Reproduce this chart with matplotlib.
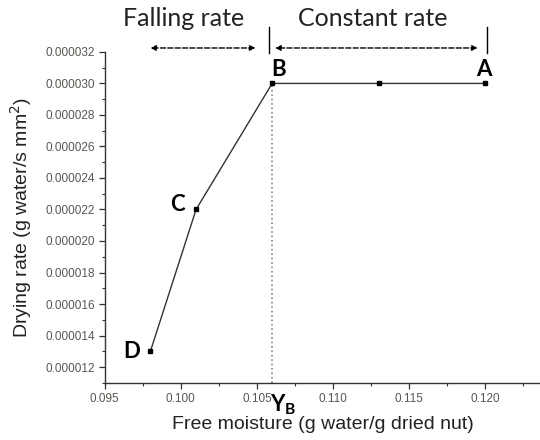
import matplotlib
matplotlib.use("Agg")
import matplotlib.pyplot as plt
from matplotlib.ticker import MultipleLocator, FormatStrFormatter

# data
moisture = [0.098, 0.101, 0.106, 0.113, 0.120]
rate = [0.000013, 0.000022, 0.000030, 0.000030, 0.000030]
point_names = ["D", "C", "B", "", "A"]
x_b = 0.106

fig = plt.figure(figsize=(5.4, 4.4), dpi=100)
ax = fig.add_axes([0.194, 0.13, 0.806, 0.752])

ax.plot(moisture, rate, color="#333333", lw=1.0, marker="s", ms=3.5,
        mfc="black", mec="black", zorder=3)
ax.vlines(x_b, 0.000011, rate[2], colors="#888888", linestyles=":", lw=1.2)

ax.set_xlim(0.095, 0.1236)
ax.set_ylim(0.000011, 0.000032)
ax.xaxis.set_major_locator(MultipleLocator(0.005))
ax.xaxis.set_minor_locator(MultipleLocator(0.0025))
ax.yaxis.set_major_locator(MultipleLocator(0.000002))
ax.yaxis.set_minor_locator(MultipleLocator(0.000001))
ax.xaxis.set_major_formatter(FormatStrFormatter("%.3f"))
ax.yaxis.set_major_formatter(FormatStrFormatter("%.6f"))
for s in ["top", "right"]:
    ax.spines[s].set_visible(False)
for s in ["left", "bottom"]:
    ax.spines[s].set_linewidth(1.0)
    ax.spines[s].set_color("#333333")
ax.tick_params(which="major", direction="out", length=4, width=0.9, pad=3,
               labelsize=8.5, labelcolor="#5a5550", color="#333333")
ax.tick_params(which="minor", direction="out", length=2.5, width=0.8, color="#333333")
for lab in ax.get_xticklabels() + ax.get_yticklabels():
    lab.set_family("Liberation Sans")

ax.set_xlabel("Free moisture (g water/g dried nut)", fontsize=14,
              family="Liberation Sans", color="#222222", labelpad=8)
ax.set_ylabel("Drying rate (g water/s mm$^2$)", fontsize=14,
              family="Liberation Sans", color="#222222", labelpad=8)

# point letters
offsets = {"D": (-0.0012, 0), "C": (-0.0012, 0.0000003), "B": (0.0004, 0.0000009),
           "A": (-0.0001, 0.0000009)}
for x, y, n in zip(moisture, rate, point_names):
    if n:
        dx, dy = offsets[n]
        ax.text(x + dx, y + dy, n, fontsize=16, fontweight="bold", family="Lato",
                ha="center", va="center", color="black")

ax.text(0.1067, 0.0000096, "Y$_\\mathregular{B}$", fontsize=16, fontweight="bold",
        family="Lato", ha="center", va="center", clip_on=False)

# region arrows and labels
ax.annotate("", xy=(0.0980, 0.00003225), xytext=(0.1049, 0.00003225),
            arrowprops=dict(arrowstyle="<|-|>", ls="--", lw=1.0, color="black",
                            mutation_scale=8, shrinkA=0, shrinkB=0),
            annotation_clip=False)
ax.annotate("", xy=(0.1062, 0.00003225), xytext=(0.1195, 0.00003225),
            arrowprops=dict(arrowstyle="<|-|>", ls="--", lw=1.0, color="black",
                            mutation_scale=8, shrinkA=0, shrinkB=0),
            annotation_clip=False)
for xb in [0.1058, 0.1201]:
    ax.plot([xb, xb], [0.0000319, 0.0000336], color="black", lw=1.0, clip_on=False)
ax.text(0.1002, 0.0000341, "Falling rate", fontsize=18, family="Lato",
        ha="center", va="center", color="#222222")
ax.text(0.1126, 0.0000341, "Constant rate", fontsize=18, family="Lato",
        ha="center", va="center", color="#222222")

fig.savefig("out.png", dpi=100)
